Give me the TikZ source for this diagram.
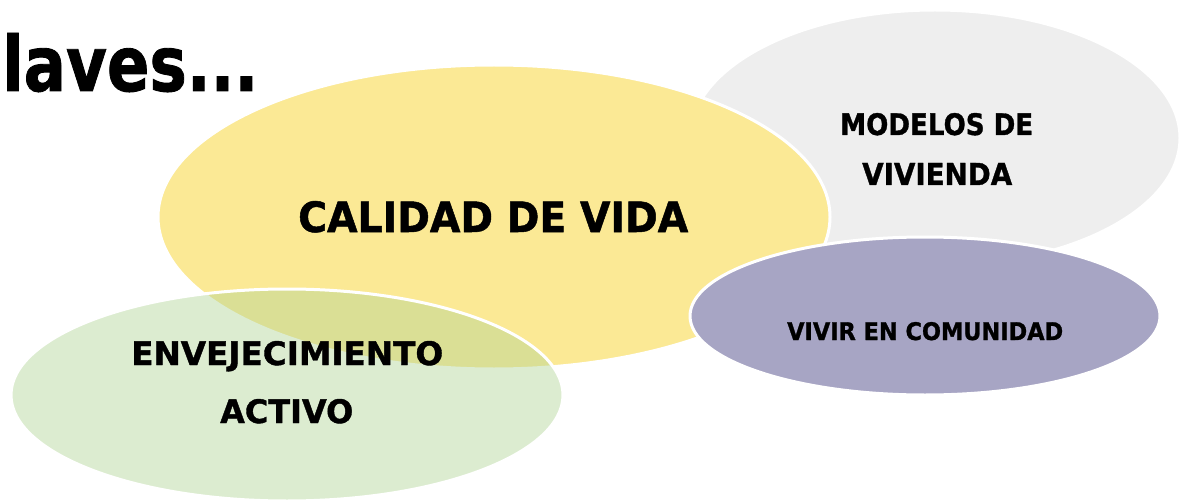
\documentclass[tikz,border=0pt]{standalone}
\usepackage{fontspec}
\setmainfont[BoldFeatures={FakeBold=1.2}]{DejaVu Sans}
\usepackage{graphicx}
\usetikzlibrary{shapes.geometric}
\definecolor{ygold}{RGB}{251,233,149}
\definecolor{lgray}{RGB}{238,238,238}
\definecolor{lpurple}{RGB}{167,165,196}
\definecolor{lgreen}{RGB}{178,213,151}
\newcommand{\fitbox}[3]{\resizebox{#1}{#2}{\bfseries #3}}
\tikzset{
  blob/.style={ellipse, inner sep=0pt, draw=white, line width=3pt},
  lbl/.style={inner sep=0pt, anchor=base west, text=black}
}
\begin{document}
\begin{tikzpicture}[x=1pt,y=-1pt]
\useasboundingbox (0,0) rectangle (1184,500);
\begin{scope}
\clip (0,0) rectangle (1184,500);
\node[blob, fill=lgray, minimum width=490pt, minimum height=256pt] (vivienda) at (935,138) {};
\node[blob, fill=ygold, minimum width=672pt, minimum height=304pt] (calidad) at (494,217) {};
\node[blob, fill=lpurple, minimum width=470pt, minimum height=158pt] (comunidad) at (925,316) {};
\node[blob, fill=lgreen, fill opacity=0.45, minimum width=552pt, minimum height=212pt] (envej) at (287,395) {};
\end{scope}
\node[lbl] (titulo) at (2,91) {\fitbox{256pt}{58pt}{laves...}};
\node[lbl] (tcal) at (298,232) {\fitbox{390pt}{31pt}{CALIDAD DE VIDA}};
\node[lbl] (tmod1) at (840,135) {\fitbox{193pt}{22pt}{MODELOS DE}};
\node[lbl] (tmod2) at (862,185) {\fitbox{150pt}{22pt}{VIVIENDA}};
\node[lbl] (tcom) at (787,340) {\fitbox{276pt}{18pt}{VIVIR EN COMUNIDAD}};
\node[lbl] (tenv1) at (131,365) {\fitbox{312pt}{24pt}{ENVEJECIMIENTO}};
\node[lbl] (tenv2) at (220,423) {\fitbox{133pt}{24pt}{ACTIVO}};
\end{tikzpicture}
\end{document}
